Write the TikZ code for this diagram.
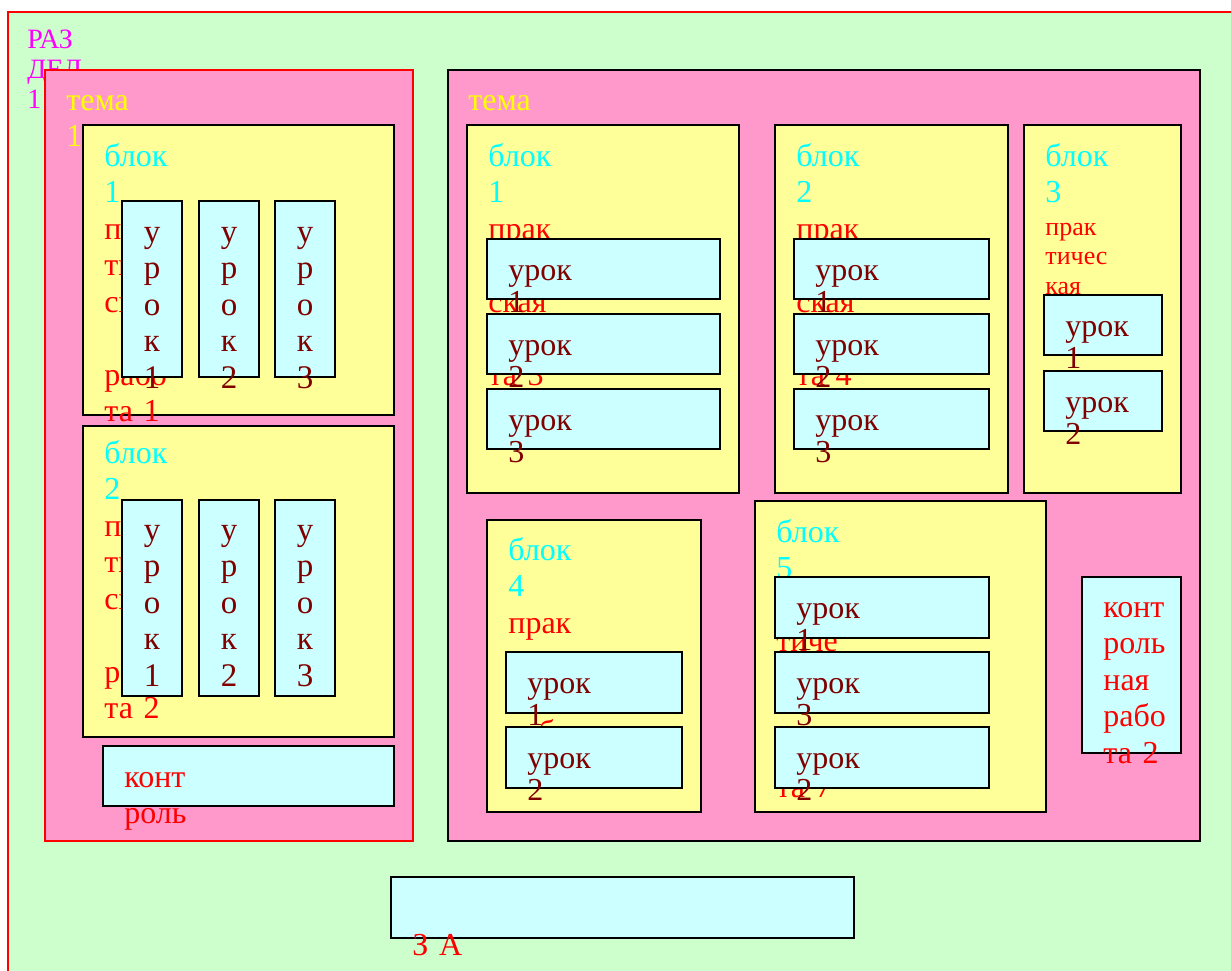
\documentclass[tikz,border=0pt]{standalone}
\usepackage{fontspec}
\setmainfont{Liberation Serif}
\usepackage{tikz}
\definecolor{razfill}{HTML}{CCFFCC}
\definecolor{temafill}{HTML}{FF99CC}
\definecolor{blokfill}{HTML}{FFFF99}
\definecolor{urokfill}{HTML}{CCFFFF}
\definecolor{urokink}{HTML}{800000}
\definecolor{blokink}{HTML}{00FFFF}
\definecolor{temaink}{HTML}{FFFF00}
\definecolor{razink}{HTML}{FF00FF}
\definecolor{workink}{HTML}{FF0000}

\begin{document}
\begin{tikzpicture}[
  x=0.5pt, y=-0.5pt,
  razdel/.style={draw=workink, fill=razfill, line width=1pt},
  tema/.style={draw=black, fill=temafill, line width=1pt},
  blok/.style={draw=black, fill=blokfill, line width=1pt},
  urok/.style={draw=black, fill=urokfill, line width=1pt},
  txt/.style={anchor=base west, inner sep=0pt, text width=150pt, align=left,
              font=\fontsize{16}{18.25}\selectfont},
  worktxt/.style={txt, text=workink},
  smalltxt/.style={txt, text=workink, font=\fontsize{13}{14.75}\selectfont},
  tematxt/.style={txt, text=temaink},
  raztxt/.style={txt, text=razink, font=\fontsize{14}{15.2}\selectfont},
  uroktxt/.style={txt, text=urokink, font=\fontsize{16}{16}\selectfont},
  vuroktxt/.style={anchor=base, inner sep=0pt, text width=20pt, align=center,
                   text=urokink, font=\fontsize{16.5}{18.25}\selectfont}
]
\useasboundingbox (0,0) rectangle (1231,970);
\clip (0,0) rectangle (1231,970);

% раздел
\draw[razdel] (8,12) rectangle (1260,1000);
\node[raztxt] (razname) at (27,48) {РАЗ\\ДЕЛ\\1};

% тема 1
\draw[tema, draw=workink] (45,70) rectangle (413,841);
\node[tematxt] (tema1name) at (66,110) {тема\\1};

\draw[blok] (83,125) rectangle (394,415);
\node[worktxt] (blokA1name) at (104,166) {{\color{blokink}блок\\1}\\прак\\тиче\\ская\\\mbox{}\\рабо\\та 1};
\foreach \ux/\n in {122/1,199/2,275/3} {
  \draw[urok] (\ux,201) rectangle ++(60,176);
  \node[vuroktxt] (urokA1\n) at (\ux+30,242) {у\\р\\о\\к\\\n};
}

\draw[blok] (83,426) rectangle (394,737);
\node[worktxt] (blokA2name) at (104,463) {{\color{blokink}блок\\2}\\прак\\тиче\\ская\\\mbox{}\\рабо\\та 2};
\foreach \ux/\n in {122/1,199/2,275/3} {
  \draw[urok] (\ux,500) rectangle ++(60,196);
  \node[vuroktxt] (urokA2\n) at (\ux+30,540) {у\\р\\о\\к\\\n};
}

\draw[urok] (103,746) rectangle (394,806);
\node[worktxt] (kontr1) at (124,787) {конт\\роль};

% тема 2
\draw[tema] (448,70) rectangle (1200,841);
\node[tematxt] (tema2name) at (468,110) {тема};

\draw[blok] (467,125) rectangle (739,493);
\node[worktxt] (blokB1name) at (488,166) {{\color{blokink}блок\\1}\\прак\\тиче\\ская\\рабо\\та 3};
\foreach \uy/\n in {239/1,314/2,389/3} {
  \draw[urok] (487,\uy) rectangle (720,\uy+60);
  \node[uroktxt] (urokB1\n) at (508,\uy+41) {урок\\\n};
}

\draw[blok] (775,125) rectangle (1008,493);
\node[worktxt] (blokB2name) at (796,166) {{\color{blokink}блок\\2}\\прак\\тиче\\ская\\рабо\\та 4};
\foreach \uy/\n in {239/1,314/2,389/3} {
  \draw[urok] (794,\uy) rectangle (989,\uy+60);
  \node[uroktxt] (urokB2\n) at (815,\uy+41) {урок\\\n};
}

\draw[blok] (1024,125) rectangle (1181,493);
\node[txt, text=blokink] (blokB3name) at (1045,166) {блок\\3};
\node[smalltxt] (blokB3work) at (1045,235) {прак\\тичес\\кая\\рабо\\та 5};
\foreach \uy/\n in {295/1,371/2} {
  \draw[urok] (1044,\uy) rectangle (1162,\uy+60);
  \node[uroktxt] (urokB3\n) at (1065,\uy+41) {урок\\\n};
}

\draw[blok] (487,520) rectangle (701,812);
\node[worktxt] (blokB4name) at (508,560) {{\color{blokink}блок\\4}\\прак\\тиче\\ская\\рабо\\та 6};
\foreach \uy/\n in {652/1,727/2} {
  \draw[urok] (506,\uy) rectangle (682,\uy+61);
  \node[uroktxt] (urokB4\n) at (527,\uy+41) {урок\\\n};
}

\draw[blok] (755,501) rectangle (1046,812);
\node[worktxt] (blokB5name) at (776,542) {{\color{blokink}блок\\5}\\прак\\тиче\\ская\\\mbox{}\\рабо\\та 7};
\foreach \uy/\n in {577/1,652/3,727/2} {
  \draw[urok] (775,\uy) rectangle (989,\uy+61);
  \node[uroktxt] (urokB5\n) at (796,\uy+41) {урок\\\n};
}

\draw[urok] (1082,577) rectangle (1181,753);
\node[worktxt] (kontr2) at (1103,617) {конт\\роль\\ная\\рабо\\та 2};

% итог
\draw[urok] (391,877) rectangle (854,938);
\node[worktxt] (itog) at (412,955) {З А};
\end{tikzpicture}
\end{document}
